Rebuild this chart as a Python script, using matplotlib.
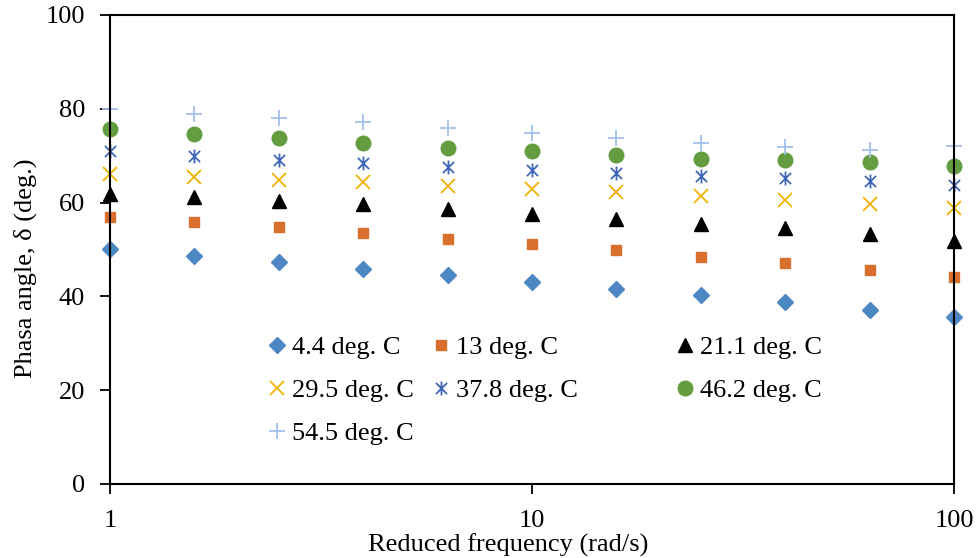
import numpy as np
import matplotlib.pyplot as plt
from matplotlib.path import Path

plt.rcParams['font.family'] = ['Liberation Serif', 'DejaVu Serif']
plt.rcParams['mathtext.fontset'] = 'stix'

# reduced frequency (rad/s), five points per decade
freq = [1, 1.585, 2.512, 3.981, 6.310, 10, 15.85, 25.12, 39.81, 63.10, 100]

# phase angle (deg.) at each test temperature
temps = ['4.4 deg. C', '13 deg. C', '21.1 deg. C', '29.5 deg. C',
         '37.8 deg. C', '46.2 deg. C', '54.5 deg. C']
phase_4_4 = [50.0, 48.7, 47.3, 45.9, 44.5, 43.0, 41.6, 40.2, 38.9, 37.2, 35.7]
phase_13 = [57.0, 55.9, 54.7, 53.5, 52.3, 51.1, 49.8, 48.4, 47.1, 45.7, 44.2]
phase_21_1 = [61.9, 61.2, 60.4, 59.6, 58.7, 57.5, 56.6, 55.5, 54.5, 53.3, 51.9]
phase_29_5 = [66.2, 65.4, 64.8, 64.3, 63.6, 62.9, 62.2, 61.4, 60.6, 59.6, 58.8]
phase_37_8 = [70.9, 69.9, 69.1, 68.4, 67.5, 66.9, 66.3, 65.7, 65.2, 64.5, 63.8]
phase_46_2 = [75.7, 74.7, 73.8, 72.7, 71.7, 71.0, 70.1, 69.4, 69.0, 68.6, 67.9]
phase_54_5 = [79.9, 78.9, 78.1, 77.1, 75.8, 74.8, 73.8, 72.8, 71.8, 71.3, 72.0]
phases = [phase_4_4, phase_13, phase_21_1, phase_29_5,
          phase_37_8, phase_46_2, phase_54_5]

# asterisk: an x with a vertical bar through it
star = Path([(-1, -1), (1, 1), (-1, 1), (1, -1), (0, -1.25), (0, 1.25)],
            [Path.MOVETO, Path.LINETO, Path.MOVETO, Path.LINETO,
             Path.MOVETO, Path.LINETO])

styles = [
    dict(marker='D', ms=8.5, color='#4E88C4'),
    dict(marker='s', ms=7.5, color='#D86F2C'),
    dict(marker='^', ms=9.5, color='black'),
    dict(marker='x', ms=10, color='#F2B200', mew=1.3),
    dict(marker=star, ms=10, color='#3F67B9', mew=1.3),
    dict(marker='o', ms=10.5, color='#639D40'),
    dict(marker='+', ms=12, color='#A4C1E9', mew=1.3),
]

fs = 19

fig = plt.figure(figsize=(9.77, 5.58), dpi=100)
ax = fig.add_axes([110 / 977, 1 - 484 / 558, 844 / 977, 469 / 558])

handles = []
for label, y, st in zip(temps, phases, styles):
    h, = ax.plot(freq, y, linestyle='none', label=label, clip_on=False, **st)
    handles.append(h)

ax.set_xscale('log')
ax.set_xlim(1, 100)
ax.set_ylim(0, 100)
ax.set_xticks([1, 10, 100])
ax.set_xticklabels(['1', '10', '100'])
ax.xaxis.set_minor_locator(plt.NullLocator())
ax.set_yticks([0, 20, 40, 60, 80, 100])

for sp in ax.spines.values():
    sp.set_linewidth(1.5)
    sp.set_color('black')
ax.tick_params(axis='both', direction='out', length=7, width=1.3,
               labelsize=fs, colors='black')
ax.tick_params(axis='y', pad=11)
ax.tick_params(axis='x', pad=12)

# axis titles sit a little off the plot centre
fig.text(508 / 977, 1 - 545 / 558, 'Reduced frequency (rad/s)',
         fontsize=fs, ha='center', va='center')
fig.text(25 / 977, 1 - 268 / 558, 'Phasa angle, δ (deg.)',
         fontsize=fs, ha='center', va='center', rotation=90)

# three legend columns placed side by side
cols = [([0, 3, 6], 0.1855), ([1, 4], 0.3797), ([2, 5], 0.6688)]
for idx, x0 in cols:
    leg = fig.legend([handles[i] for i in idx], [temps[i] for i in idx],
                     loc='upper left', bbox_to_anchor=(x0, 0.3156),
                     bbox_transform=ax.transAxes,
                     frameon=False, fontsize=fs, handlelength=0.8,
                     handletextpad=0.17, labelspacing=0.74, borderpad=0,
                     borderaxespad=0)

fig.savefig('out.png', dpi=100)
